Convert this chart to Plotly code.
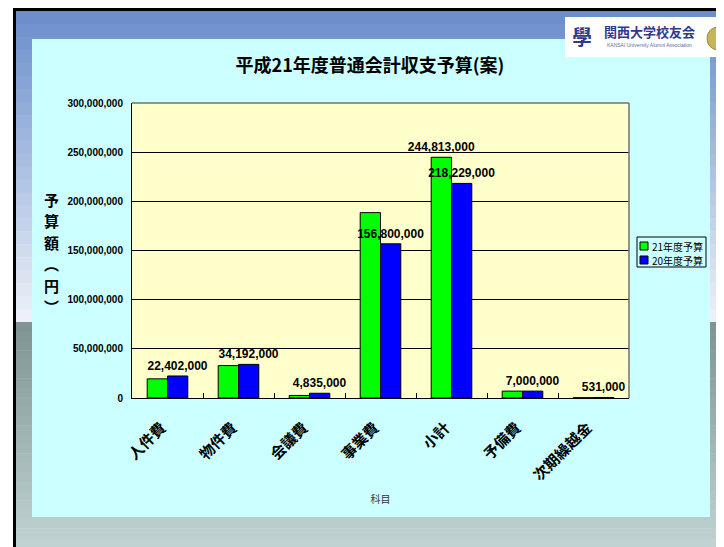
import plotly.graph_objects as go

# ---------------- data ----------------
categories = ["人件費", "物件費", "会議費", "事業費", "小計", "予備費", "次期繰越金"]
budget_21 = [19500000, 33000000, 2600000, 188500000, 244813000, 7000000, 300000]
budget_20 = [22402000, 34192000, 4835000, 156800000, 218229000, 7000000, 531000]
label_21_shown = [False, False, False, False, True, False, False]
series_names = ["21年度予算", "20年度予算"]
series_colors = ["#00FF00", "#0000FF"]
y_ticks = [0, 50000000, 100000000, 150000000, 200000000, 250000000, 300000000]

title_text = "平成21年度普通会計収支予算(案)"
y_title_chars = ["予", "算", "額", "︵", "円", "︶"]
x_title = "科目"

# ---------------- layout geometry ----------------
OFF = 8                      # page body margin in the browser
W, H = 724 - OFF, 547 - OFF  # figure size
L, T = 132 - OFF, 103 - OFF
R = W - (629 - OFF)
B = H - (398 - OFF)
PW, PH = W - L - R, H - T - B


def px(x):  # page pixel -> paper x
    return (x - OFF - L) / PW


def py(y):  # page pixel -> paper y
    return (H - B - (y - OFF)) / PH


CJK = "Noto Sans CJK JP, Noto Sans, sans-serif"
NUM = "Liberation Sans, Arial, sans-serif"

labels_21 = [f"{v:,}" if s else "" for v, s in zip(budget_21, label_21_shown)]
labels_20 = [f"{v:,}" for v in budget_20]

fig = go.Figure()
for name, vals, labels, color in zip(series_names, [budget_21, budget_20],
                                     [labels_21, labels_20], series_colors):
    fig.add_bar(
        name=name, x=categories, y=vals, showlegend=False,
        marker=dict(color=color, line=dict(color="black", width=1)),
        text=labels, textposition="outside", textangle=0, constraintext="none",
        cliponaxis=False, textfont=dict(family=NUM, size=12, color="black", weight="bold"),
    )

shapes = []


def rect(x0, y0, x1, y1, color, line=None, layer="below"):
    shapes.append(dict(type="rect", xref="paper", yref="paper", layer=layer,
                       x0=px(x0), x1=px(x1), y0=py(y1), y1=py(y0),
                       fillcolor=color, line=dict(width=0) if line is None else line))


def lerp(c0, c1, t):
    return "rgb(%d,%d,%d)" % tuple(round(a + (b - a) * t) for a, b in zip(c0, c1))


# slide background
rect(0, 0, 724, 547, "white")
n = 24
top0, top1 = 11, 322
for i in range(n):
    y0 = top0 + (top1 - top0) * i / n
    y1 = top0 + (top1 - top0) * (i + 1) / n + 0.5
    rect(16, y0, 724, y1, lerp((108, 143, 204), (236, 240, 248), i / (n - 1)))
bot0, bot1 = 322, 547
for i in range(n):
    y0 = bot0 + (bot1 - bot0) * i / n
    y1 = bot0 + (bot1 - bot0) * (i + 1) / n + 0.5
    rect(16, y0, 724, y1, lerp((128, 148, 148), (192, 210, 210), i / (n - 1)))
rect(13, 8, 724, 11, "black")
rect(13, 8, 16, 547, "black")
# chart panel
rect(32, 39, 710, 517, "#CCFFFF")
# plot area fill
rect(132, 103, 629, 398, "#FFFFCC")
# logo
rect(565, 17, 724, 57, "white")
shapes.append(dict(type="circle", xref="paper", yref="paper", layer="below",
                   x0=px(707), x1=px(729), y0=py(50), y1=py(27),
                   fillcolor="#C8B45A", line=dict(color="#9C8A3A", width=1)))
# plot border top / right (gray)
shapes.append(dict(type="line", xref="paper", yref="paper", x0=0, x1=1, y0=1, y1=1,
                   line=dict(color="#707070", width=1.5)))
shapes.append(dict(type="line", xref="paper", yref="paper", x0=1, x1=1, y0=0, y1=1,
                   line=dict(color="#707070", width=1.5)))

annotations = [
    dict(text="関西大学校友会", x=px(649), y=py(31), xref="paper", yref="paper",
         showarrow=False, xanchor="center", yanchor="middle",
         font=dict(family=CJK, size=13, color="#2E3A8C", weight="bold")),
    dict(text="KANSAI University Alumni Association", x=px(649), y=py(45), xref="paper", yref="paper",
         showarrow=False, xanchor="center", yanchor="middle",
         font=dict(family=NUM, size=5, color="#6070A0")),
    dict(text="學", x=px(582), y=py(37), xref="paper", yref="paper",
         showarrow=False, xanchor="center", yanchor="middle",
         font=dict(family=CJK, size=20, color="#2E3A8C", weight="bold")),
]

# vertical (stacked) y-axis title
for i, ch in enumerate(y_title_chars):
    annotations.append(dict(text=ch, x=px(51), y=py(199 + 21.5 * i), xref="paper", yref="paper",
                            showarrow=False, xanchor="center", yanchor="middle",
                            font=dict(family=CJK, size=15, color="black", weight="bold")))

# legend box (drawn manually so it stays compact like the original)
rect(637, 237, 706, 267, "#CCFFFF", line=dict(color="black", width=1), layer="above")
for i, (name, color) in enumerate(zip(series_names, series_colors)):
    cy = 246 + i * 14
    rect(640, cy - 4, 648, cy + 4, color, line=dict(color="black", width=1), layer="above")
    annotations.append(dict(text=name, x=px(650), y=py(cy), xref="paper", yref="paper",
                            showarrow=False, xanchor="left", yanchor="middle",
                            font=dict(family=CJK, size=10, color="black")))

fig.update_layout(
    width=W, height=H,
    margin=dict(l=L, r=R, t=T, b=B, pad=0, autoexpand=False),
    paper_bgcolor="#BCD0D0", plot_bgcolor="#FFFFCC",
    font=dict(family=CJK, color="black"),
    barmode="group", bargap=0.428, bargroupgap=0,
    showlegend=False,
    title=dict(text=title_text, x=(370 - OFF) / W, xref="container", xanchor="center",
               y=1 - (66 - OFF) / H, yref="container", yanchor="middle",
               font=dict(family=CJK, size=18, color="black", weight="bold")),
    xaxis=dict(type="category", showline=True, linecolor="black", linewidth=1,
               automargin=False,
               ticks="inside", tickson="boundaries", ticklen=5, tickcolor="black",
               tickangle=-45, ticklabelstandoff=14, ticklabelshift=-6,
               tickfont=dict(family=CJK, size=15, color="black", weight="bold"),
               showgrid=False,
               title=dict(text=x_title, standoff=12,
                          font=dict(family=CJK, size=10, color="#333333"))),
    yaxis=dict(range=[0, 300000000], tickvals=y_ticks, tickformat=",d",
               automargin=False,
               showgrid=True, gridcolor="black", gridwidth=1,
               showline=True, linecolor="black", linewidth=1, zeroline=False,
               ticks="", ticklabelstandoff=6,
               tickfont=dict(family=NUM, size=10, color="black", weight="bold")),
    shapes=shapes, annotations=annotations,
)

fig.write_html("out.html")
